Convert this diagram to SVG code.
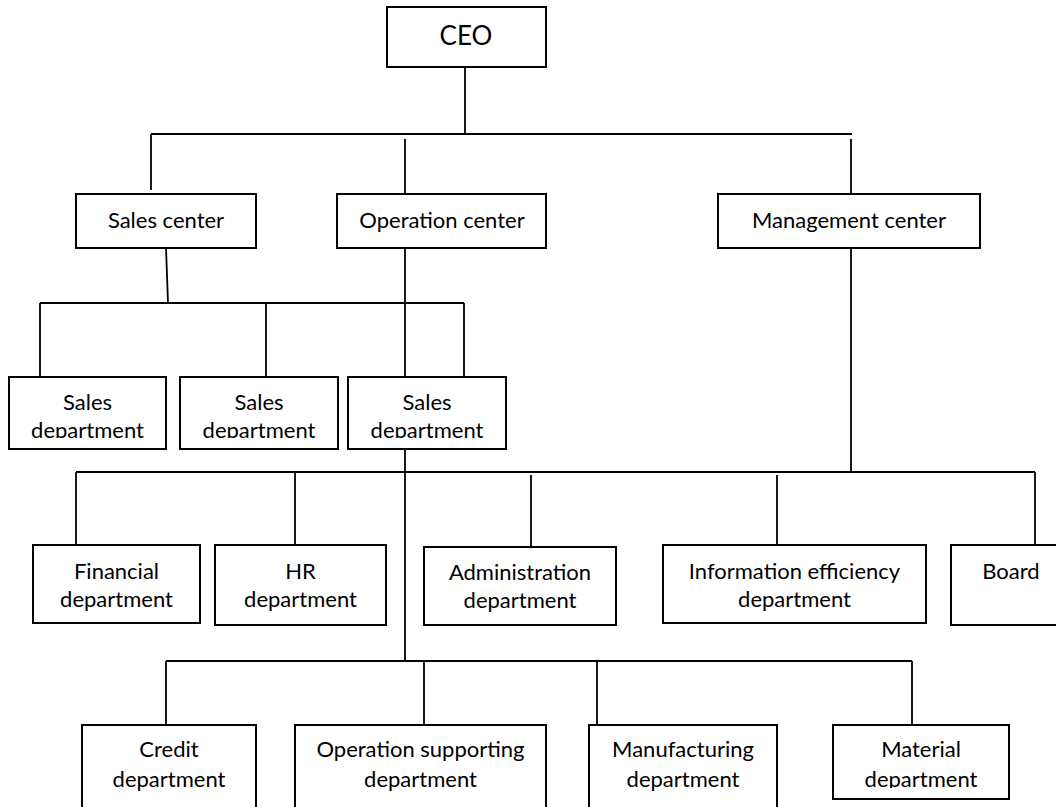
<svg xmlns="http://www.w3.org/2000/svg" width="1056" height="807" viewBox="0 0 1056 807">
  <style>
    .box { fill: #ffffff; stroke: #000000; stroke-width: 2; }
    .link { fill: none; stroke: #000000; stroke-width: 1.8; }
    .lbl { font-family: Lato, "Liberation Sans", sans-serif; font-size: 22px; fill: #000000; text-anchor: middle; }
    .big { font-size: 26px; }
  </style>
  <defs>
    <!-- text frames of the boxes that cut off the second line -->
    <clipPath id="clipS1"><rect x="9" y="377" width="157" height="61"/></clipPath>
    <clipPath id="clipS2"><rect x="180" y="377" width="158" height="61"/></clipPath>
    <clipPath id="clipS3"><rect x="348" y="377" width="158" height="61"/></clipPath>
    <clipPath id="clipMat"><rect x="833" y="725" width="176" height="63"/></clipPath>
  </defs>
  <rect width="1056" height="807" fill="#ffffff"/>

  <g id="connectors">
    <!-- CEO to centers -->
    <path class="link" d="M465 67 V134"/>
    <path class="link" d="M151 134 H852"/>
    <path class="link" d="M151 134 V190"/>
    <path class="link" d="M405 139 V194"/>
    <path class="link" d="M851 139 V194"/>
    <!-- sales center to sales departments -->
    <path class="link" d="M166 248 L168 303"/>
    <path class="link" d="M40 303 H464"/>
    <path class="link" d="M40 303 V377"/>
    <path class="link" d="M266 303 V377"/>
    <path class="link" d="M464 303 V377"/>
    <!-- operation center trunk -->
    <path class="link" d="M405 248 V661"/>
    <!-- management center to its departments -->
    <path class="link" d="M851 248 V472"/>
    <path class="link" d="M76 472 H1035"/>
    <path class="link" d="M76 472 V545"/>
    <path class="link" d="M295 472 V545"/>
    <path class="link" d="M531 475 V547"/>
    <path class="link" d="M777 475 V545"/>
    <path class="link" d="M1035 472 V545"/>
    <!-- operation departments -->
    <path class="link" d="M166 661 H912"/>
    <path class="link" d="M166 661 V725"/>
    <path class="link" d="M424 661 V725"/>
    <path class="link" d="M597 661 V725"/>
    <path class="link" d="M912 661 V725"/>
  </g>

  <g id="ceo">
    <rect class="box" x="387" y="7" width="159" height="60"/>
    <text class="lbl big" x="466" y="45">CEO</text>
  </g>

  <g id="sales-center">
    <rect class="box" x="76" y="194" width="180" height="54"/>
    <text class="lbl" x="166" y="228">Sales center</text>
  </g>
  <g id="operation-center">
    <rect class="box" x="337" y="194" width="209" height="54"/>
    <text class="lbl" x="442" y="228">Operation center</text>
  </g>
  <g id="management-center">
    <rect class="box" x="718" y="194" width="262" height="54"/>
    <text class="lbl" x="849" y="228">Management center</text>
  </g>

  <g id="sales-dept-1">
    <rect class="box" x="9" y="377" width="157" height="72"/>
    <g clip-path="url(#clipS1)">
      <text class="lbl" x="87.5" y="410">Sales</text>
      <text class="lbl" x="87.5" y="438">department</text>
    </g>
  </g>
  <g id="sales-dept-2">
    <rect class="box" x="180" y="377" width="158" height="72"/>
    <g clip-path="url(#clipS2)">
      <text class="lbl" x="259" y="410">Sales</text>
      <text class="lbl" x="259" y="438">department</text>
    </g>
  </g>
  <g id="sales-dept-3">
    <rect class="box" x="348" y="377" width="158" height="72"/>
    <g clip-path="url(#clipS3)">
      <text class="lbl" x="427" y="410">Sales</text>
      <text class="lbl" x="427" y="438">department</text>
    </g>
  </g>

  <g id="financial">
    <rect class="box" x="33" y="545" width="167" height="78"/>
    <text class="lbl" x="116.5" y="579">Financial</text>
    <text class="lbl" x="116.5" y="607">department</text>
  </g>
  <g id="hr">
    <rect class="box" x="215" y="545" width="171" height="80"/>
    <text class="lbl" x="300.5" y="579">HR</text>
    <text class="lbl" x="300.5" y="607">department</text>
  </g>
  <g id="administration">
    <rect class="box" x="424" y="547" width="192" height="78"/>
    <text class="lbl" x="520" y="580">Administration</text>
    <text class="lbl" x="520" y="608">department</text>
  </g>
  <g id="information-efficiency">
    <rect class="box" x="663" y="545" width="263" height="78"/>
    <text class="lbl" x="794.5" y="579">Information efficiency</text>
    <text class="lbl" x="794.5" y="607">department</text>
  </g>
  <g id="board">
    <rect class="box" x="951" y="545" width="130" height="80"/>
    <text class="lbl" x="1011" y="579">Board</text>
  </g>

  <g id="credit">
    <rect class="box" x="82" y="725" width="174" height="110"/>
    <text class="lbl" x="169" y="757">Credit</text>
    <text class="lbl" x="169" y="787">department</text>
  </g>
  <g id="operation-supporting">
    <rect class="box" x="295" y="725" width="251" height="110"/>
    <text class="lbl" x="420.5" y="757">Operation supporting</text>
    <text class="lbl" x="420.5" y="787">department</text>
  </g>
  <g id="manufacturing">
    <rect class="box" x="589" y="725" width="188" height="110"/>
    <text class="lbl" x="683" y="757">Manufacturing</text>
    <text class="lbl" x="683" y="787">department</text>
  </g>
  <g id="material">
    <rect class="box" x="833" y="725" width="176" height="74"/>
    <g clip-path="url(#clipMat)">
      <text class="lbl" x="921" y="757">Material</text>
      <text class="lbl" x="921" y="787">department</text>
    </g>
  </g>
</svg>
